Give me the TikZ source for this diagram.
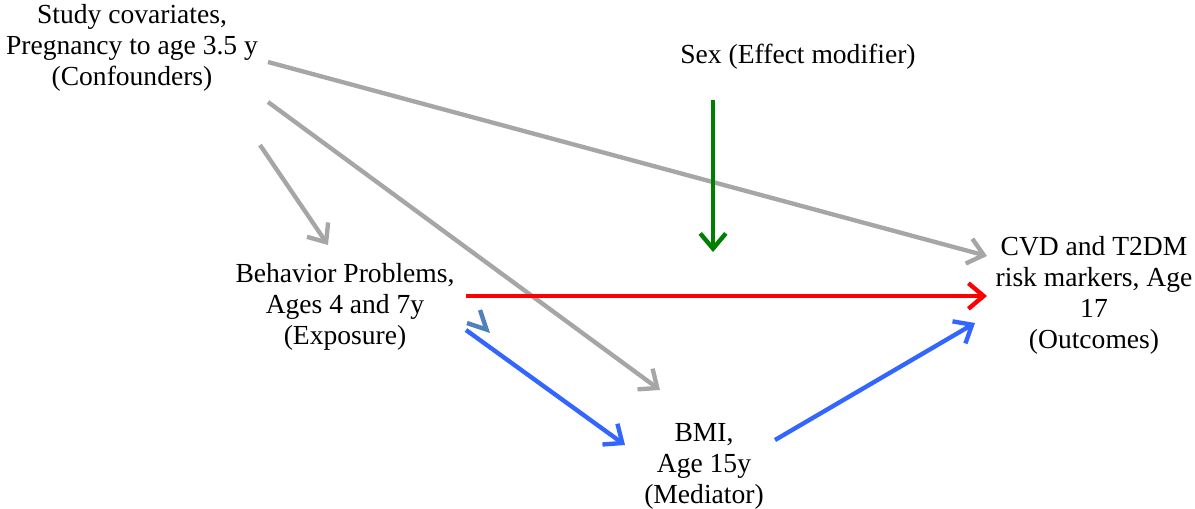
\documentclass[tikz,border=0pt]{standalone}
\usepackage{fontspec}
\setmainfont{Liberation Serif}
\usetikzlibrary{arrows.meta}
\definecolor{arrgray}{RGB}{166,166,166}
\definecolor{arrgreen}{RGB}{0,128,0}
\definecolor{arrblue}{RGB}{51,102,255}
\definecolor{strayblue}{RGB}{79,129,189}

\begin{document}
\begin{tikzpicture}[x=0.025cm,y=-0.025cm,
  box/.style={align=center,inner sep=0pt,font=\fontsize{19.6}{22}\selectfont},
  conn/.style={line width=3.1pt,-{Straight Barb[length=3.8mm,width=6.4mm]}}]
\useasboundingbox (0,0) rectangle (1195,508);
\node[box] (conf) at (132,48) {Study covariates,\\Pregnancy to age 3.5 y\\(Confounders)};
\node[box] (sex) at (798,57) {Sex (Effect modifier)};
\node[box] (expo) at (345,307) {Behavior Problems,\\Ages 4 and 7y\\(Exposure)};
\node[box] (outc) at (1094,295) {CVD and T2DM\\risk markers, Age\\17\\(Outcomes)};
\node[box] (med) at (704,466) {BMI,\\Age 15y\\(Mediator)};
\draw[conn,arrgray] ([shift={(136,14)}]conf.center) -- ([shift={(-107,-39)}]outc.center);
\draw[conn,arrgray] ([shift={(136,54)}]conf.center) -- ([shift={(-44,-76)}]med.center);
\draw[conn,arrgray] ([shift={(128,97)}]conf.center) -- ([shift={(-17,-62)}]expo.center);
\draw[conn,arrgreen] ([shift={(-85,43)}]sex.center) -- ([shift={(-85,195)}]sex.center);
\draw[conn,red] ([shift={(121,-11)}]expo.center) -- ([shift={(-107,1)}]outc.center);
\draw[conn,arrblue] ([shift={(121,23)}]expo.center) -- ([shift={(-79,-21)}]med.center);
\draw[conn,arrblue] ([shift={(71,-26)}]med.center) -- ([shift={(-119,28)}]outc.center);
\draw[conn,strayblue,-{Straight Barb[length=4.6mm,width=4.6mm]}] ([shift={(141,22)}]expo.center) -- ([shift={(145,26)}]expo.center);
\end{tikzpicture}
\end{document}
